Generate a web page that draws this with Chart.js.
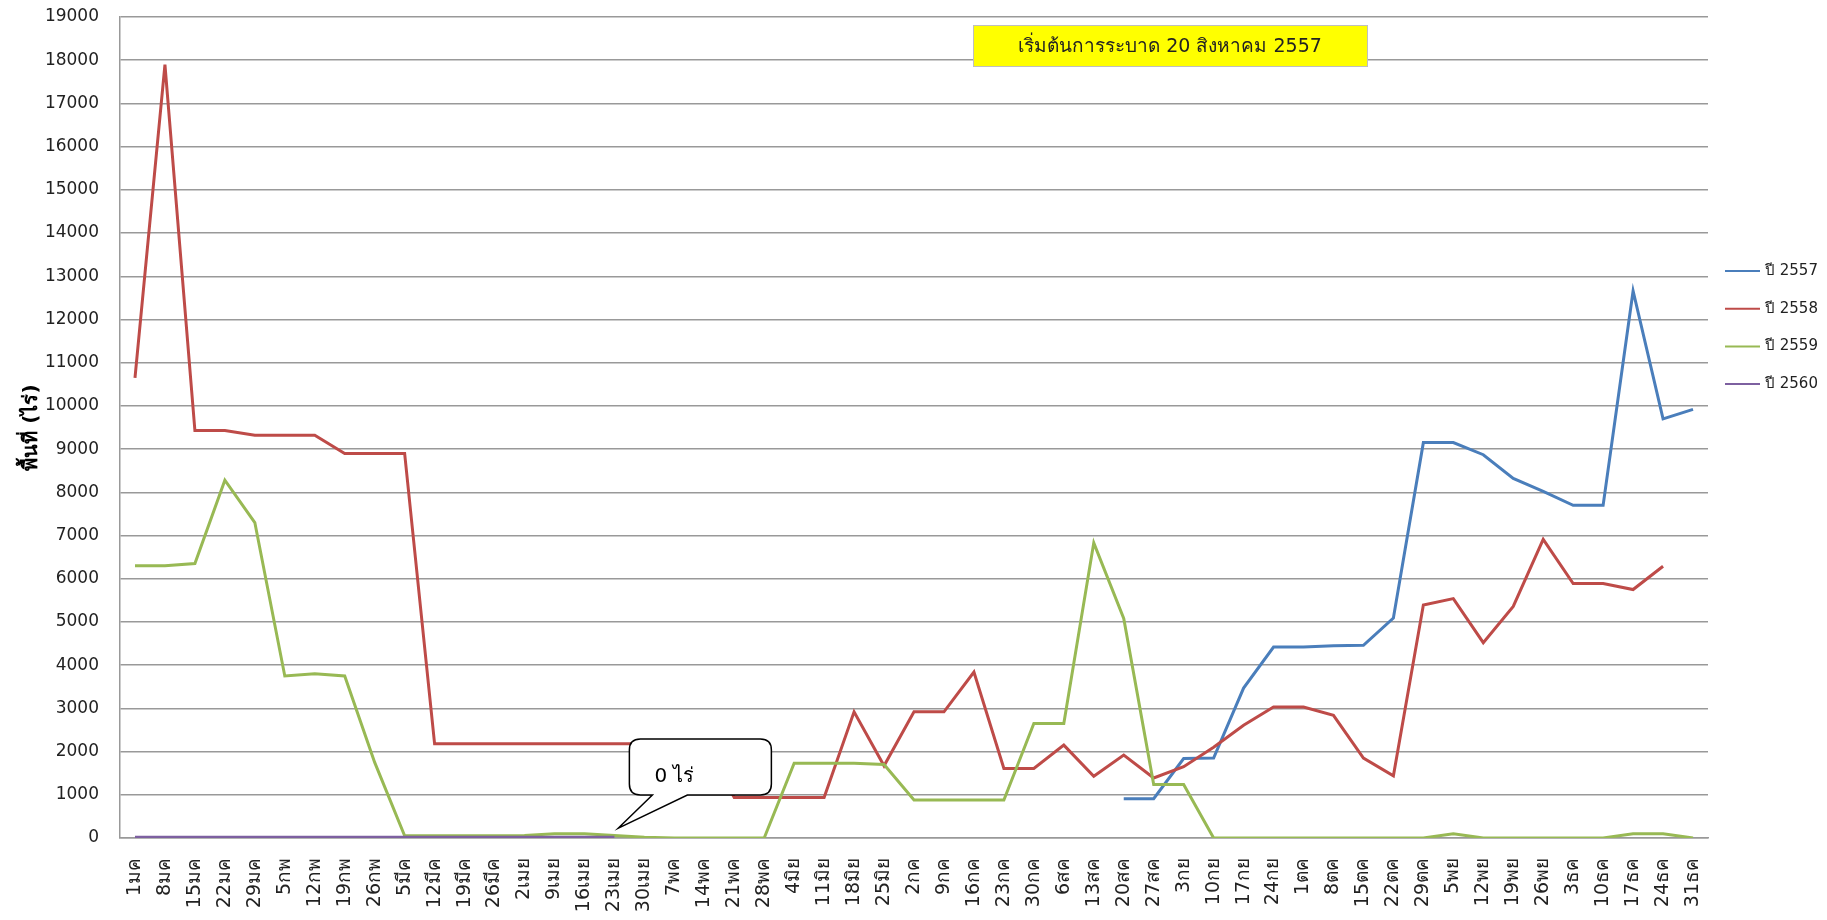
<!DOCTYPE html>
<html>
<head>
<meta charset="utf-8">
<script src="https://cdn.jsdelivr.net/npm/chart.js@4.4.1/dist/chart.umd.min.js"></script>
<style>
  body { margin: 0; background: #fff; }
  #wrap { width: 1827px; height: 920px; }
</style>
</head>
<body>
<div id="wrap"><canvas id="areaChart" width="1827" height="920"></canvas></div>
<script>
// Week labels (Thai date + month)
const weeks = ['1มค','8มค','15มค','22มค','29มค','5กพ','12กพ','19กพ','26กพ','5มีค','12มีค','19มีค','26มีค',
  '2เมย','9เมย','16เมย','23เมย','30เมย','7พค','14พค','21พค','28พค','4มิย','11มิย','18มิย','25มิย',
  '2กค','9กค','16กค','23กค','30กค','6สค','13สค','20สค','27สค','3กย','10กย','17กย','24กย',
  '1ตค','8ตค','15ตค','22ตค','29ตค','5พย','12พย','19พย','26พย','3ธค','10ธค','17ธค','24ธค','31ธค'];

// Area (rai) per week, one array per year
const y2557 = [null,null,null,null,null,null,null,null,null,null,null,null,null,
  null,null,null,null,null,null,null,null,null,null,null,null,null,
  null,null,null,null,null,null,null,910,910,1840,1850,3470,4420,
  4420,4450,4460,5090,9150,9150,8870,8320,8020,7700,7700,12660,9700,9920];

const y2558 = [10650,17900,9430,9430,9320,9320,9320,8900,8900,8900,2180,2180,2180,
  2180,2180,2180,2180,2180,2180,2180,940,940,940,940,2920,1670,
  2920,2920,3840,1610,1610,2150,1430,1920,1390,1650,2100,2610,3030,
  3030,2840,1850,1440,5390,5540,4520,5360,6910,5890,5890,5750,6290,null];

const y2559 = [6300,6300,6350,8280,7300,3750,3800,3750,1750,50,50,50,50,
  60,100,100,60,20,0,0,0,0,1730,1730,1730,1700,
  880,880,880,880,2650,2650,6830,5080,1240,1240,0,0,0,
  0,0,0,0,0,100,0,0,0,0,0,100,100,0];

const y2560 = [20,20,20,20,20,20,20,20,20,20,20,20,20,
  20,20,20,20,null,null,null,null,null,null,null,null,null,
  null,null,null,null,null,null,null,null,null,null,null,null,null,
  null,null,null,null,null,null,null,null,null,null,null,null,null,null];

const seriesNames = ['ปี 2557', 'ปี 2558', 'ปี 2559', 'ปี 2560'];
const seriesColors = ['#4A7EBB', '#BE4B48', '#98B954', '#7D60A0'];

const yMin = 0;
const yMax = 19000;
const yStep = 1000;

const titleText = 'เริ่มต้นการระบาด 20 สิงหาคม 2557';
const calloutText = '0 ไร่';

const FONT = 'Tahoma, "DejaVu Sans", sans-serif';

// yellow note box at the top
const noteBox = {
  id: 'noteBox',
  afterDraw(chart) {
    const ctx = chart.ctx;
    ctx.save();
    ctx.fillStyle = '#FFFF00';
    ctx.fillRect(973, 25, 394, 41);
    ctx.strokeStyle = '#BFBFBF';
    ctx.lineWidth = 1;
    ctx.strokeRect(973.5, 25.5, 394, 41);
    ctx.fillStyle = '#222';
    ctx.font = '19px ' + FONT;
    ctx.textAlign = 'center';
    ctx.textBaseline = 'middle';
    ctx.fillText(titleText, 1170, 47);
    ctx.restore();
  }
};

// speech bubble pointing at the end of the 2560 line
const callout = {
  id: 'callout',
  afterDatasetsDraw(chart) {
    const ctx = chart.ctx;
    const tx = chart.scales.x.getPixelForValue(16) + 4;
    const ty = chart.scales.y.getPixelForValue(230);
    const l = tx + 11, t = ty - 89, r = tx + 153, b = ty - 33, rad = 11;
    ctx.save();
    ctx.beginPath();
    ctx.moveTo(l + rad, t);
    ctx.lineTo(r - rad, t);
    ctx.quadraticCurveTo(r, t, r, t + rad);
    ctx.lineTo(r, b - rad);
    ctx.quadraticCurveTo(r, b, r - rad, b);
    ctx.lineTo(tx + 69, b);
    ctx.lineTo(tx, ty);
    ctx.lineTo(tx + 34, b);
    ctx.lineTo(l + rad, b);
    ctx.quadraticCurveTo(l, b, l, b - rad);
    ctx.lineTo(l, t + rad);
    ctx.quadraticCurveTo(l, t, l + rad, t);
    ctx.closePath();
    ctx.fillStyle = '#fff';
    ctx.fill();
    ctx.strokeStyle = '#000';
    ctx.lineWidth = 1.5;
    ctx.stroke();
    ctx.fillStyle = '#000';
    ctx.font = '20px ' + FONT;
    ctx.textBaseline = 'alphabetic';
    ctx.fillText(calloutText, tx + 36, ty - 46);
    ctx.restore();
  }
};

// legend on the right, line + label
const sideLegend = {
  id: 'sideLegend',
  afterDraw(chart) {
    const ctx = chart.ctx;
    ctx.save();
    ctx.font = '15px ' + FONT;
    ctx.textBaseline = 'middle';
    chart.data.datasets.forEach((ds, i) => {
      const y = 271 + i * 37.7;
      ctx.strokeStyle = ds.borderColor;
      ctx.lineWidth = 2;
      ctx.beginPath();
      ctx.moveTo(1725, y);
      ctx.lineTo(1760, y);
      ctx.stroke();
      ctx.fillStyle = '#222';
      ctx.fillText(ds.label, 1765, y);
    });
    ctx.restore();
  }
};

const ctx = document.getElementById('areaChart').getContext('2d');
const areaChart = new Chart(ctx, {
  type: 'line',
  data: {
    labels: weeks,
    datasets: [y2557, y2558, y2559, y2560].map((d, i) => ({
      label: seriesNames[i],
      data: d,
      borderColor: seriesColors[i],
      backgroundColor: seriesColors[i],
      borderWidth: 3,
      pointRadius: 0,
      tension: 0,
      spanGaps: false,
      order: 3 - i
    }))
  },
  options: {
    responsive: false,
    animation: false,
    layout: { padding: { left: 0, right: 119, top: 0, bottom: 0 } },
    plugins: {
      legend: { display: false },
      tooltip: { enabled: false }
    },
    scales: {
      x: {
        offset: true,
        grid: { display: false, drawTicks: false },
        border: { color: '#999', width: 1.5 },
        ticks: {
          autoSkip: false,
          minRotation: 90,
          maxRotation: 90,
          padding: 20,
          color: '#222',
          font: { family: FONT, size: 19 }
        },
        afterFit: s => { s.height = 82; }
      },
      y: {
        min: yMin,
        max: yMax,
        grid: { color: '#999', lineWidth: 1.5, drawTicks: false },
        border: { color: '#999', width: 1.5 },
        ticks: {
          stepSize: yStep,
          padding: 21,
          color: '#222',
          font: { family: FONT, size: 17 },
          callback: v => String(v)
        },
        title: {
          display: true,
          text: 'พื้นที่ (ไร่)',
          color: '#000',
          font: { family: FONT, size: 20, weight: 'bold' },
          padding: { top: 20, bottom: 0 }
        },
        afterFit: s => {
          s.width = 120;
          s.paddingTop = 17;
          s.paddingBottom = 0;
        }
      }
    }
  },
  plugins: [noteBox, callout, sideLegend]
});
</script>
</body>
</html>
